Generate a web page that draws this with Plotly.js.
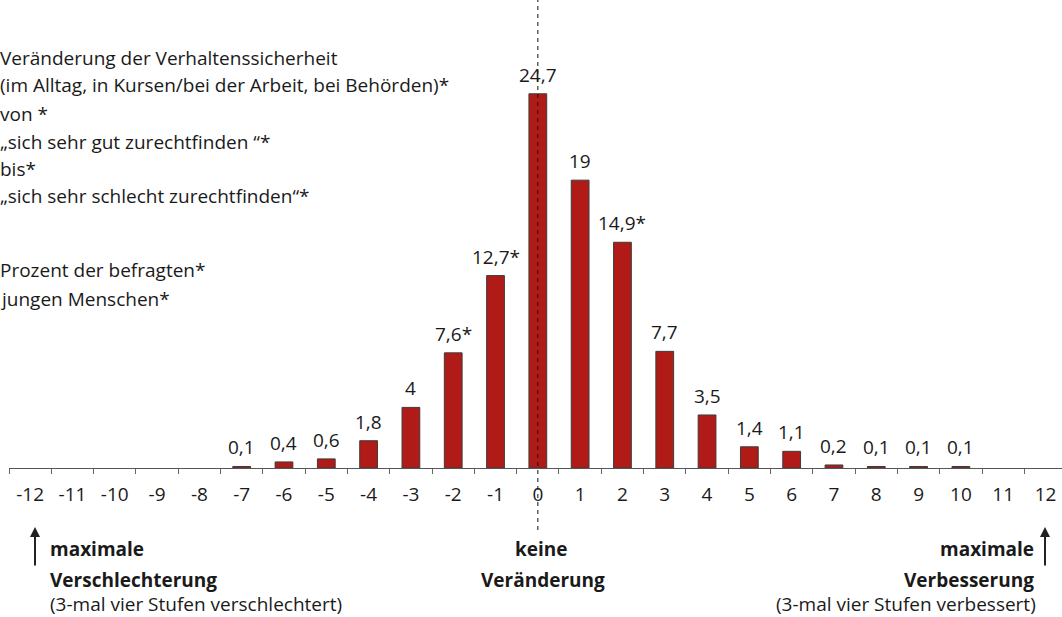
<!DOCTYPE html>
<html>
<head>
<meta charset="utf-8">
<script src="https://cdn.plot.ly/plotly-3.0.1.min.js"></script>
<style>html,body{margin:0;padding:0;background:#fff;overflow:hidden}#chart{width:1062px;height:617px}</style>
</head>
<body>
<div id="chart"></div>
<script>
// Categories (change steps) and shares in percent
const categories = [-7, -6, -5, -4, -3, -2, -1, 0, 1, 2, 3, 4, 5, 6, 7, 8, 9, 10];
const percentValues = [0.1, 0.4, 0.6, 1.8, 4, 7.6, 12.7, 24.7, 19, 14.9, 7.7, 3.5, 1.4, 1.1, 0.2, 0.1, 0.1, 0.1];
const valueLabels = ["0,1", "0,4", "0,6", "1,8", "4", "7,6*", "12,7*", "24,7", "19", "14,9*", "7,7", "3,5", "1,4", "1,1", "0,2", "0,1", "0,1", "0,1"];
const tickValues = [-12, -11, -10, -9, -8, -7, -6, -5, -4, -3, -2, -1, 0, 1, 2, 3, 4, 5, 6, 7, 8, 9, 10, 11, 12];
const tickLabels = tickValues.map(String);
const legendLines = [
  "Veränderung der Verhaltenssicherheit",
  "(im Alltag, in Kursen/bei der Arbeit, bei Behörden)*",
  "von *",
  "„sich sehr gut zurechtfinden “*",
  "bis*",
  "„sich sehr schlecht zurechtfinden“*",
  "Prozent der befragten*",
  "jungen Menschen*"
];

const FONT = "Open Sans, Noto Sans, sans-serif";
const TXT = "#1a1a1a";
const plotH = 468;
const py = px => (plotH - px) / plotH;
const legendY = [58, 85, 114, 142, 169, 196, 270, 299];

const annotations = [];
categories.forEach((c, i) => {
  annotations.push({
    x: c, y: percentValues[i], xref: "x", yref: "y",
    text: valueLabels[i], showarrow: false, yanchor: "bottom", yshift: 4,
    font: {family: FONT, size: 19, color: TXT}
  });
});
legendLines.forEach((t, i) => {
  annotations.push({
    x: -0.0105, y: py(legendY[i]), xref: "paper", yref: "paper",
    text: t, showarrow: false, xanchor: "left", yanchor: "middle",
    font: {family: FONT, size: 19, color: TXT}
  });
});
const bottom = [
  {x: 48, y: 549, t: "<b>maximale</b>", a: "left"},
  {x: 48, y: 580, t: "<b>Verschlechterung</b>", a: "left"},
  {x: 48, y: 604, t: "(3-mal vier Stufen verschlechtert)", a: "left"},
  {x: 541, y: 549, t: "<b>keine</b>", a: "center"},
  {x: 543, y: 580, t: "<b>Veränderung</b>", a: "center"},
  {x: 1036, y: 549, t: "<b>maximale</b>", a: "right"},
  {x: 1036, y: 580, t: "<b>Verbesserung</b>", a: "right"},
  {x: 1038, y: 604, t: "(3-mal vier Stufen verbessert)", a: "right"}
];
bottom.forEach(b => {
  annotations.push({
    x: (b.x - 9) / 1053, y: py(b.y), xref: "paper", yref: "paper",
    text: b.t, showarrow: false, xanchor: b.a, yanchor: "middle",
    font: {family: FONT, size: 19, color: TXT}
  });
});
[35, 1045].forEach(xp => {
  annotations.push({
    x: (xp - 9) / 1053, y: py(527), xref: "paper", yref: "paper",
    text: "", showarrow: true, ax: 0, ay: 40, axref: "pixel", ayref: "pixel",
    arrowhead: 2, arrowsize: 1, arrowwidth: 2, arrowcolor: "#222"
  });
});

const trace = {
  type: "bar",
  x: categories,
  y: percentValues,
  width: 0.42,
  marker: {color: "#B11B17", line: {color: "#3c3c3c", width: 1}},
  hoverinfo: "x+y"
};

const layout = {
  width: 1062, height: 617,
  margin: {l: 9, r: 0, t: 0, b: 617 - plotH, pad: 0},
  paper_bgcolor: "#fff", plot_bgcolor: "#fff",
  showlegend: false,
  xaxis: {
    range: [-12.5, 12.39],
    tickmode: "array", tickvals: tickValues, ticktext: tickLabels,
    ticks: "outside", ticklen: 0, tickcolor: "rgba(0,0,0,0)",
    ticklabelstandoff: 9,
    tickfont: {family: FONT, size: 19, color: TXT},
    showline: true, linecolor: "#555", linewidth: 1,
    showgrid: false, zeroline: false, fixedrange: true,
    minor: {tickmode: "linear", tick0: -12.5, dtick: 1, ticks: "outside", ticklen: 5, tickwidth: 1, tickcolor: "#666", showgrid: false}
  },
  yaxis: {
    range: [0, plotH / 15.15],
    visible: false, showgrid: false, zeroline: false, fixedrange: true
  },
  shapes: [{
    type: "line", xref: "x", yref: "paper", x0: 0, x1: 0, y0: py(530), y1: 1,
    line: {color: "#111", width: 1, dash: "4px,4px"}, layer: "above"
  }],
  annotations: annotations
};

Plotly.newPlot("chart", [trace], layout, {displayModeBar: false, staticPlot: true});
</script>
</body>
</html>
